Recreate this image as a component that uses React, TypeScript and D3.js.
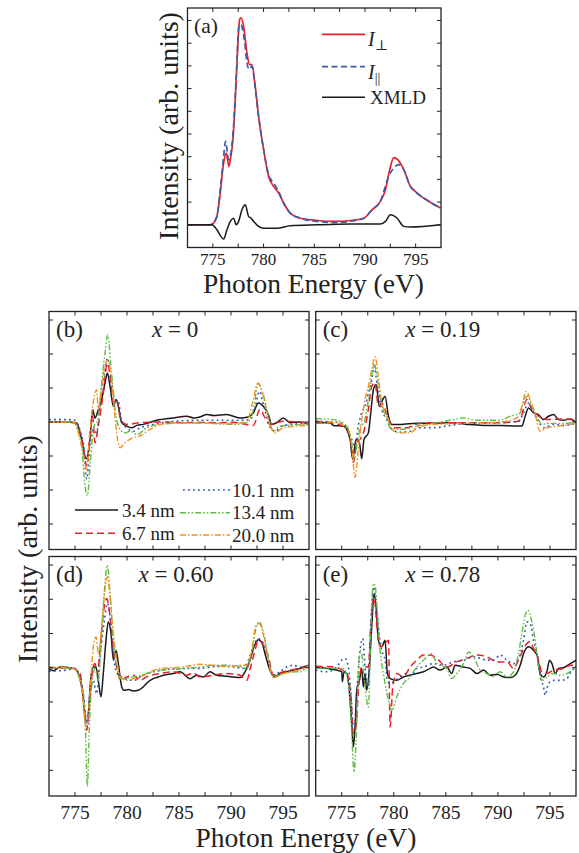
import React from 'react';
import * as d3 from 'd3';

type Pt = [number, number];

// ---------- Panel (a) data: energy (eV), intensity (arb.) ----------
const aPerp: Pt[] = [[772.5,0],[774.74,0],[775.07,0.07],[775.4,0.37],[775.73,1.4],[776.06,2.72],[776.32,3.16],[776.58,2.57],[776.72,2.87],[776.98,3.75],[777.21,5.51],[777.44,7.72],[777.64,9.04],[777.77,9.12],[778.03,8.75],[778.36,7.57],[778.62,7.06],[778.85,7.06],[779.18,6.1],[779.51,4.78],[780.01,3.31],[780.5,2.13],[780.99,1.69],[781.49,1.4],[781.98,0.96],[782.64,0.51],[783.63,0.29],[785.27,0.19],[786.92,0.15],[788.56,0.19],[789.88,0.29],[790.7,0.66],[791.52,1.03],[792.02,1.54],[792.44,2.43],[792.84,2.96],[793.23,2.87],[793.83,2.43],[794.48,1.69],[794.8,1.54],[795.14,1.4],[796.13,1.08],[797.45,0.74]];
const aPar: Pt[] = [[772.5,0],[774.74,0],[775.4,0.37],[775.73,1.54],[776.06,3.0],[776.25,3.68],[776.55,2.87],[776.78,3.16],[777.04,4.34],[777.31,6.54],[777.57,8.75],[777.77,8.82],[778.1,8.16],[778.43,6.99],[778.62,6.84],[778.85,6.99],[779.18,6.03],[779.51,4.78],[780.01,3.31],[780.5,2.2],[780.99,1.84],[781.49,1.47],[781.98,0.96],[782.64,0.51],[783.63,0.29],[785.27,0.15],[786.92,0.1],[788.56,0.15],[789.88,0.29],[790.7,0.66],[791.52,1.03],[791.85,1.47],[792.34,2.13],[792.84,2.5],[793.33,2.65],[793.83,2.43],[794.48,1.69],[795.14,1.4],[796.13,1.08],[797.45,0.74]];
const aXmld: Pt[] = [[772.5,0],[774.9,0],[775.4,-0.22],[775.79,-0.51],[776.06,-0.63],[776.39,-0.22],[776.72,0.15],[777.04,0.29],[777.31,0],[777.54,0.15],[777.87,0.66],[778.2,0.88],[778.52,0.37],[778.75,0.3],[779.02,0.15],[779.51,-0.07],[780.01,-0.15],[781.32,-0.15],[782.64,-0.04],[785.27,0],[788.56,0.03],[791.52,0.03],[792.02,0.15],[792.51,0.44],[793.17,0.29],[793.83,-0.07],[794.48,-0.1],[797.45,0]];

// ---------- Panel (b) x = 0 ----------
const bBlack: Pt[] = [[772.5,0],[774.2,0],[775.16,-0.03],[775.64,-0.51],[776.06,-1.08],[776.44,-0.51],[776.7,0.36],[776.92,0.12],[777.24,0.36],[777.56,0.66],[777.88,1.14],[778.11,1.44],[778.37,1.05],[778.69,0.46],[778.94,0.66],[779.17,0.46],[779.49,-0.02],[779.97,-0.12],[780.45,-0.17],[780.93,-0.1],[781.57,-0.07],[782.85,0.05],[784.46,0.12],[785.74,0.17],[786.4,0.12],[787.02,0.15],[787.7,0.22],[788.3,0.19],[789.58,0.22],[790.87,0.12],[791.67,0.15],[792.15,0.27],[792.63,0.56],[793.11,0.46],[793.59,0.22],[793.91,-0.07],[794.39,-0.02],[795.03,0.12],[795.67,-0.02],[796.63,0],[797.44,-0.07]];
const bRed: Pt[] = [[772.5,0],[775.0,-0.02],[775.8,-0.73],[776.12,-1.29],[776.44,-0.32],[776.7,0.17],[776.92,-0.61],[777.24,-0.12],[777.72,0.85],[778.11,1.73],[778.43,1.24],[778.69,0.56],[779.01,0.66],[779.39,0.07],[779.97,-0.07],[781.25,-0.02],[783.17,0],[785.1,-0.02],[787.02,-0.01],[788.62,-0.02],[790.22,-0.01],[792.15,-0.1],[792.79,0.37],[793.27,0.12],[793.75,-0.07],[795.03,0.02],[797.44,-0.02]];
const bBlue: Pt[] = [[772.5,0.07],[774.84,0.07],[775.8,-0.61],[776.12,-1.68],[776.5,-0.51],[776.83,-0.22],[777.08,-0.32],[777.4,0.56],[777.79,1.34],[778.11,1.88],[778.43,1.34],[778.85,0.66],[779.17,0.61],[779.49,0],[779.97,-0.17],[780.61,-0.27],[781.25,-0.17],[782.53,-0.07],[783.81,0],[787.02,0.05],[790.22,0.05],[791.83,0.07],[792.31,0.41],[792.72,0.9],[793.17,0.46],[793.69,-0.12],[794.23,-0.27],[795.03,-0.1],[797.44,-0.04]];
const bGreen: Pt[] = [[772.5,0],[774.84,0],[775.64,-0.71],[775.96,-1.88],[776.19,-2.17],[776.5,-1.09],[776.83,-0.12],[777.24,0.07],[777.56,1.14],[777.88,2.02],[778.14,2.56],[778.46,1.63],[778.85,0.37],[779.33,-0.22],[779.81,-0.32],[780.29,-0.27],[780.93,-0.37],[781.89,-0.17],[783.17,-0.07],[785.1,-0.03],[787.02,-0.03],[790.22,-0.07],[791.51,-0.03],[792.15,0.37],[792.63,1.14],[793.11,0.8],[793.59,0.17],[794.07,-0.27],[794.71,-0.12],[797.44,-0.07]];
const bOrange: Pt[] = [[772.5,0],[774.84,0],[775.64,-0.71],[776.12,-1.39],[776.38,-0.51],[776.7,0.46],[777.08,0.95],[777.24,0.37],[777.56,1.05],[777.88,1.63],[778.17,1.83],[778.43,1.44],[778.69,0.66],[779.01,-0.32],[779.33,-0.76],[779.81,-0.61],[780.61,-0.46],[781.25,-0.41],[782.21,-0.22],[783.49,-0.05],[785.1,-0.03],[787.02,-0.03],[790.22,-0.05],[791.51,0.02],[792.15,0.66],[792.56,1.14],[793.11,0.76],[793.59,0.07],[794.23,-0.32],[795.03,-0.17],[797.44,-0.1]];

// ---------- Panel (c) x = 0.19 ----------
const cBlack: Pt[] = [[772.5,-0.02],[773.87,-0.02],[774.2,-0.1],[775.16,-0.12],[775.8,-0.51],[776.05,-1.09],[776.38,-0.51],[776.7,-0.61],[776.92,-1.08],[777.14,-0.51],[777.56,-0.32],[777.79,0.27],[778.04,0.95],[778.3,1.1],[778.62,0.46],[778.94,0.66],[779.16,0.76],[779.49,0.17],[779.81,-0.07],[780.61,-0.07],[782.21,-0.04],[783.81,-0.04],[785.41,-0.02],[787.01,-0.07],[788.62,-0.1],[790.22,-0.1],[791.82,-0.12],[792.3,-0.12],[792.62,0.17],[792.94,0.41],[793.42,0.27],[793.9,0.22],[794.38,0.07],[794.86,0.17],[795.35,0.22],[795.83,0.07],[796.31,0.05],[796.95,0.09],[797.53,-0.02]];
const cRed: Pt[] = [[772.5,0.02],[774.2,-0.04],[775.48,-0.17],[775.96,-0.71],[776.12,-1.19],[776.44,-0.61],[776.76,-0.51],[777.08,-0.32],[777.56,0.37],[777.88,1.05],[778.2,1.15],[778.52,0.46],[778.84,0.56],[779.16,0.37],[779.49,0.07],[779.97,-0.17],[781.25,-0.17],[782.05,-0.07],[783.81,-0.02],[787.01,-0.02],[790.22,-0.02],[791.98,0.02],[792.3,0.22],[792.78,0.66],[793.26,0.37],[793.74,0.22],[794.7,0.07],[796.31,0.09],[797.53,0.05]];
const cBlue: Pt[] = [[772.5,0.02],[774.84,-0.02],[775.48,-0.17],[775.96,-0.51],[776.28,-0.71],[776.6,-0.1],[776.92,0.27],[777.24,0.46],[777.56,0.85],[777.88,1.24],[778.11,1.63],[778.43,1.05],[778.84,0.37],[779.33,0.07],[779.81,-0.22],[780.61,-0.3],[781.57,-0.27],[782.53,-0.17],[783.81,-0.17],[785.09,-0.12],[787.01,-0.04],[790.22,-0.02],[791.98,0.02],[792.46,0.27],[792.94,0.56],[793.42,0.27],[793.9,0.02],[794.38,-0.17],[795.35,-0.07],[796.31,-0.1],[797.53,-0.04]];
const cGreen: Pt[] = [[772.5,0.1],[774.2,0.07],[775.48,-0.12],[775.96,-0.61],[776.21,-1.09],[776.5,-0.61],[776.82,-0.12],[777.14,-0.02],[777.46,0.46],[777.79,1.14],[778.11,1.73],[778.43,1.24],[778.84,0.46],[779.26,0.17],[779.65,-0.17],[780.61,-0.22],[782.21,-0.12],[783.81,-0.04],[785.41,0.05],[786.69,0.12],[787.98,0.05],[790.22,0.05],[791.18,0.17],[792.14,0.27],[792.53,0.66],[792.85,0.76],[793.26,0.46],[793.74,0.17],[794.22,-0.07],[794.86,-0.04],[796.31,-0.04],[797.53,0]];
const cOrange: Pt[] = [[772.5,0],[774.2,0],[775.48,-0.17],[775.96,-0.71],[776.28,-1.63],[776.6,-0.8],[776.92,0.07],[777.24,0.66],[777.56,1.05],[777.88,1.53],[778.2,1.92],[778.52,1.34],[778.84,0.56],[779.16,0.32],[779.49,0.07],[779.97,-0.27],[780.61,-0.32],[781.57,-0.32],[782.21,-0.17],[783.81,-0.07],[787.01,-0.04],[790.22,0],[791.82,0.12],[792.3,0.46],[792.72,0.9],[793.1,0.66],[793.58,0.22],[794.06,-0.27],[794.7,-0.17],[796.31,-0.1],[797.53,-0.04]];

// ---------- Panel (d) x = 0.60 ----------
const dBlack: Pt[] = [[772.5,-0.02],[772.92,-0.09],[773.56,0.02],[774.84,-0.02],[775.32,-0.17],[775.74,-0.76],[776.06,-1.58],[776.28,-1.34],[776.5,-0.37],[776.76,0.02],[777.02,0.02],[777.24,-0.37],[777.5,-0.85],[777.72,-0.17],[777.98,0.8],[778.2,1.34],[778.46,1.0],[778.69,0.22],[778.94,0.51],[779.17,0.12],[779.49,-0.56],[779.71,-0.66],[780.13,-0.64],[780.61,-0.68],[781.09,-0.66],[781.57,-0.56],[782.05,-0.41],[782.53,-0.32],[783.01,-0.27],[783.49,-0.22],[784.46,-0.17],[785.1,-0.12],[786.06,-0.32],[786.7,-0.22],[787.34,-0.27],[787.98,-0.12],[788.62,-0.22],[789.58,-0.25],[790.22,-0.27],[790.87,-0.29],[791.35,-0.12],[791.83,0.22],[792.21,0.61],[792.63,0.82],[792.95,0.75],[793.27,0.41],[793.75,-0.07],[794.23,-0.27],[794.71,-0.17],[795.35,-0.12],[795.99,-0.07],[796.63,-0.02],[797.44,0.07]];
const dRed: Pt[] = [[772.5,0],[774.84,-0.02],[775.48,-0.17],[775.8,-0.85],[776.12,-1.83],[776.38,-1.15],[776.7,-0.07],[776.92,0.12],[777.15,-0.17],[777.4,0.51],[777.72,1.58],[778.04,2.02],[778.37,1.49],[778.69,0.51],[779.01,0.02],[779.39,-0.37],[779.97,-0.27],[780.61,-0.22],[781.25,-0.37],[781.89,-0.27],[783.17,-0.17],[784.46,-0.12],[785.74,-0.22],[786.38,-0.15],[787.02,-0.27],[788.3,-0.22],[789.58,-0.17],[790.87,-0.22],[791.51,-0.37],[791.89,0.02],[792.31,0.51],[792.63,0.8],[793.11,0.66],[793.59,0.32],[794.07,-0.22],[795.03,-0.12],[796.63,-0.02],[797.44,0.02]];
const dBlue: Pt[] = [[772.5,-0.1],[774.2,-0.07],[775.0,-0.02],[775.8,-0.76],[776.19,-1.73],[776.44,-0.76],[776.76,-0.37],[777.08,-0.76],[777.4,0.32],[777.79,1.29],[778.11,1.88],[778.43,1.39],[778.75,0.22],[779.07,-0.17],[779.49,-0.27],[780.61,-0.37],[781.57,-0.22],[782.53,-0.12],[783.81,-0.05],[785.42,-0.02],[787.02,-0.02],[788.62,0.04],[790.22,0.02],[791.19,-0.02],[791.67,0.22],[792.15,0.61],[792.63,0.85],[793.11,0.71],[793.59,0.22],[794.07,-0.22],[794.71,-0.12],[795.35,0.02],[795.99,0.07],[796.63,0.02],[797.44,0.02]];
const dGreen: Pt[] = [[772.5,0],[774.84,-0.02],[775.64,-0.56],[775.96,-1.44],[776.19,-3.46],[776.38,-1.74],[776.6,-0.56],[776.92,-0.02],[777.24,-0.37],[777.56,1.0],[777.88,2.46],[778.11,3.0],[778.37,2.17],[778.69,0.8],[779.01,0.02],[779.39,-0.32],[780.61,-0.27],[781.89,-0.17],[783.17,-0.07],[784.46,-0.05],[785.74,-0.02],[787.02,0.02],[788.3,0.07],[789.58,0.07],[790.87,0.04],[791.51,-0.02],[791.99,0.41],[792.47,1.24],[792.72,1.34],[793.11,1.05],[793.59,0.32],[794.07,-0.27],[795.03,-0.17],[795.99,-0.12],[796.63,-0.12],[797.44,0.07]];
const dOrange: Pt[] = [[772.5,0.02],[774.84,-0.02],[775.64,-0.56],[776.06,-1.73],[776.28,-1.34],[776.5,-0.46],[776.76,0.61],[777.02,0.9],[777.24,0.41],[777.56,1.19],[777.88,2.27],[778.11,2.66],[778.37,2.07],[778.69,0.99],[779.01,0.22],[779.39,-0.27],[779.97,-0.37],[780.61,-0.32],[781.25,-0.27],[782.21,-0.12],[783.17,-0.02],[784.46,0],[785.74,0.04],[787.02,0.1],[788.3,0.07],[789.58,0.04],[790.87,0.07],[791.51,0.07],[791.99,0.51],[792.4,1.24],[792.72,1.29],[793.11,0.95],[793.59,0.22],[794.07,-0.29],[795.03,-0.17],[795.99,-0.12],[797.44,0.04]];

// ---------- Panel (e) x = 0.78 (no 20.0 nm curve) ----------
const eBlack: Pt[] = [[772.5,0.02],[773.55,-0.02],[774.52,-0.07],[775.0,-0.12],[775.06,-0.41],[775.22,-0.12],[775.48,-0.17],[775.73,-0.66],[775.96,-1.63],[776.12,-2.31],[776.28,-1.73],[776.44,-0.66],[776.7,-0.37],[776.92,-0.02],[777.08,-0.56],[777.24,-0.17],[777.4,-0.66],[777.66,0.02],[777.88,1.19],[778.11,2.17],[778.3,1.78],[778.52,0.8],[778.84,0.61],[779.16,0.8],[779.39,-0.17],[779.65,-0.32],[780.29,-0.37],[780.93,-0.27],[781.57,-0.22],[782.21,-0.17],[782.85,-0.12],[783.49,-0.02],[783.81,0.02],[784.45,-0.07],[785.09,0.02],[785.57,-0.17],[785.89,0.07],[786.69,0.02],[787.34,-0.02],[787.98,-0.17],[788.62,-0.07],[789.26,-0.22],[789.9,-0.19],[790.54,-0.27],[791.18,-0.29],[791.66,-0.22],[792.14,0.07],[792.46,0.41],[792.94,0.61],[793.42,0.51],[793.81,0.32],[794.06,-0.17],[794.38,-0.27],[794.7,-0.12],[794.96,0.22],[795.19,0.12],[795.51,-0.17],[795.83,-0.02],[796.31,0.0],[796.95,0.12],[797.53,0.22]];
const eRed: Pt[] = [[772.5,0.04],[774.2,0.02],[775.48,-0.17],[775.86,-0.76],[776.12,-1.93],[776.38,-1.73],[776.6,-0.66],[776.92,0.02],[777.24,0.02],[777.56,0.02],[777.79,1.29],[778.11,2.07],[778.36,1.29],[778.68,0.61],[779.16,0.71],[779.49,0.8],[779.65,-1.73],[779.9,-0.56],[780.29,-0.17],[780.93,-0.27],[781.57,0.02],[782.21,0.22],[782.85,0.37],[783.49,0.37],[784.13,0.27],[785.09,0.02],[786.05,0.17],[787.01,0.27],[787.98,0.37],[788.94,0.32],[789.9,0.17],[790.86,0.17],[791.5,-0.02],[791.98,0.22],[792.4,0.51],[792.78,0.71],[793.1,0.76],[793.42,0.56],[793.81,0.32],[794.22,-0.12],[794.7,-0.17],[795.35,-0.07],[796.31,-0.02],[796.95,0.07],[797.53,0.07]];
const eBlue: Pt[] = [[772.5,-0.07],[773.55,-0.12],[774.52,0.02],[775.0,0.22],[775.32,0.27],[775.64,0.02],[775.86,-0.66],[776.12,-1.73],[776.28,-1.73],[776.44,-0.85],[776.76,0.51],[777.02,0.85],[777.24,0.02],[777.56,-0.56],[777.79,1.19],[778.04,2.36],[778.3,1.88],[778.52,1.19],[778.84,0.51],[779.16,0.22],[779.39,-0.37],[779.65,-0.46],[779.97,-0.41],[780.61,-0.27],[781.25,-0.17],[781.73,-0.22],[782.21,-0.02],[782.85,0.02],[783.81,0.12],[784.77,0.07],[785.73,0.17],[786.69,0.22],[787.66,0.32],[788.3,0.27],[788.94,0.22],[789.58,0.22],[790.22,0.37],[790.86,0.22],[791.5,0.12],[791.98,0.27],[792.46,0.8],[792.78,1.34],[793.1,1.29],[793.42,0.8],[793.74,0.41],[794.06,-0.27],[794.38,-0.56],[794.54,-0.8],[794.86,-0.46],[795.35,-0.37],[795.99,-0.37],[796.63,-0.32],[797.11,-0.07],[797.53,-0.02]];
const eGreen: Pt[] = [[772.5,0.0],[774.2,-0.02],[775.16,-0.02],[775.64,-0.46],[775.96,-1.93],[776.18,-3.05],[776.38,-2.12],[776.6,-0.17],[776.76,0.51],[776.92,0.41],[777.24,-0.56],[777.56,-1.15],[777.79,1.0],[778.04,2.46],[778.2,2.41],[778.43,1.58],[778.68,0.51],[779.0,-0.17],[779.49,-0.95],[779.81,-1.24],[780.29,-0.85],[780.93,-0.46],[781.57,-0.27],[782.21,0.02],[782.85,0.22],[783.65,0.41],[784.13,0.12],[785.09,-0.02],[785.57,-0.32],[786.05,-0.17],[786.69,0.12],[787.18,0.46],[787.66,0.32],[788.3,-0.07],[788.94,-0.17],[789.58,-0.27],[790.22,-0.12],[790.86,-0.27],[791.5,-0.12],[791.98,0.41],[792.3,1.0],[792.62,1.53],[792.88,1.68],[793.26,1.34],[793.58,0.8],[793.9,0.02],[794.22,-0.37],[794.7,-0.27],[795.35,-0.17],[795.99,-0.22],[796.63,-0.17],[797.11,-0.07],[797.53,0.07]];

// ---------- Axis / label values ----------
const xDomain: [number, number] = [772.5, 797.5];
const xTickLabels = [775, 780, 785, 790, 795];
const xMinorTicks = [775, 777.5, 780, 782.5, 785, 787.5, 790, 792.5, 795];
const aYTicks = [0, 1, 2, 3, 4, 5, 6, 7, 8, 9];
const lowYTicks = [-3, -2, -1, 0, 1, 2, 3];
const thicknessLabels = ['3.4 nm', '6.7 nm', '10.1 nm', '13.4 nm', '20.0 nm'];
const panelNames = ['(b)', '(c)', '(d)', '(e)'];
const panelX = ['0', '0.19', '0.60', '0.78'];

const FONT = '"Liberation Serif", "DejaVu Serif", serif';

const STYLES = [
  { color: '#1a1a1a', dash: null as string | null, w: 1.5 },
  { color: '#ee1d25', dash: '7,4', w: 1.5 },
  { color: '#3352b0', dash: '1.8,3.2', w: 1.6 },
  { color: '#62bb46', dash: '6,2,1.6,2,1.6,2', w: 1.4 },
  { color: '#f6921e', dash: '6,2,1.6,2', w: 1.4 },
];

type Box = { x0: number; x1: number; y0: number; y1: number };
type Sty = { color: string; dash: string | null; w: number };

function Frame({ box, yTicks, y, x, id }: { box: Box; yTicks: number[]; y: d3.ScaleLinear<number, number>; x: d3.ScaleLinear<number, number>; id: string }) {
  const tl = 4;
  return (
    <g>
      {xMinorTicks.map((t) => (
        <g key={id + 'xt' + t}>
          <line x1={x(t)} x2={x(t)} y1={box.y1} y2={box.y1 - tl} stroke="#222" strokeWidth={1} />
          <line x1={x(t)} x2={x(t)} y1={box.y0} y2={box.y0 + tl} stroke="#222" strokeWidth={1} />
        </g>
      ))}
      {yTicks.map((t) => (
        <g key={id + 'yt' + t}>
          <line x1={box.x0} x2={box.x0 + tl} y1={y(t)} y2={y(t)} stroke="#222" strokeWidth={1} />
          <line x1={box.x1} x2={box.x1 - tl} y1={y(t)} y2={y(t)} stroke="#222" strokeWidth={1} />
        </g>
      ))}
      <rect x={box.x0} y={box.y0} width={box.x1 - box.x0} height={box.y1 - box.y0} fill="none" stroke="#222" strokeWidth={1.3} />
    </g>
  );
}

function Curves({ box, series, id, x, y, styles }: { box: Box; series: Pt[][]; id: string; x: d3.ScaleLinear<number, number>; y: d3.ScaleLinear<number, number>; styles: Sty[] }) {
  const line = d3.line<Pt>().x((d) => x(d[0])).y((d) => y(d[1])).curve(d3.curveMonotoneX);
  return (
    <g>
      <defs>
        <clipPath id={`clip-${id}`}>
          <rect x={box.x0} y={box.y0} width={box.x1 - box.x0} height={box.y1 - box.y0} />
        </clipPath>
      </defs>
      <g clipPath={`url(#clip-${id})`}>
        {series.map((s, i) => (
          <path key={i} d={line(s) || ''} fill="none" stroke={styles[i].color} strokeWidth={styles[i].w}
            strokeDasharray={styles[i].dash || undefined} strokeLinejoin="round" />
        ))}
      </g>
    </g>
  );
}

export default function App() {
  const boxA: Box = { x0: 187.5, x1: 441, y0: 8, y1: 247.5 };
  const xA = d3.scaleLinear().domain(xDomain).range([boxA.x0, boxA.x1]);
  const yA = d3.scaleLinear().domain([-1, 9.55]).range([boxA.y1, boxA.y0]);
  const aStyles: Sty[] = [
    { color: '#e8202a', dash: null, w: 1.7 },
    { color: '#3b5aa8', dash: '6,3.5', w: 1.7 },
    { color: '#1a1a1a', dash: null, w: 1.5 },
  ];

  const cols = [[49, 309], [315.7, 576]];
  const rows = [[311.5, 549.5], [556.5, 796]];
  const lowSeries: Pt[][][] = [
    [bBlack, bRed, bBlue, bGreen, bOrange],
    [cBlack, cRed, cBlue, cGreen, cOrange],
    [dBlack, dRed, dBlue, dGreen, dOrange],
    [eBlack, eRed, eBlue, eGreen],
  ];

  const panels = lowSeries.map((series, i) => {
    const c = cols[i % 2];
    const r = rows[Math.floor(i / 2)];
    const box: Box = { x0: c[0], x1: c[1], y0: r[0], y1: r[1] };
    const x = d3.scaleLinear().domain(xDomain).range([box.x0, box.x1]);
    const y = d3.scaleLinear().domain([-3.75, 3.25]).range([box.y1, box.y0]);
    return { box, x, y, series, i };
  });

  const legendPos = [
    { lx0: 75, lx1: 118, ly: 510, tx: 122, ty: 516.5 },
    { lx0: 75, lx1: 118, ly: 533.3, tx: 122, ty: 540 },
    { lx0: 183, lx1: 230, ly: 490, tx: 232, ty: 496.5 },
    { lx0: 180, lx1: 230, ly: 512.7, tx: 232, ty: 518.5 },
    { lx0: 180, lx1: 230, ly: 535, tx: 232, ty: 541.5 },
  ];

  return (
    <svg width={579} height={853} style={{ position: 'absolute', left: 0, top: 0, background: '#fff' }} fontFamily={FONT}>
      <rect x={0} y={0} width={579} height={853} fill="#fff" />
      <Curves box={boxA} series={[aPerp, aPar, aXmld]} id="a" x={xA} y={yA} styles={aStyles} />
      <Frame box={boxA} yTicks={aYTicks} x={xA} y={yA} id="a" />
      {xTickLabels.map((t) => (
        <text key={'al' + t} x={xA(t)} y={264.5} textAnchor="middle" fontSize={17} fill="#222">{t}</text>
      ))}
      <text x={194} y={33} fontSize={21.5} fill="#222">(a)</text>
      <line x1={322} x2={365} y1={34.3} y2={34.3} stroke={aStyles[0].color} strokeWidth={1.7} />
      <text x={368} y={46} fontSize={20} fill="#222"><tspan fontStyle="italic">I</tspan><tspan fontSize={14} dy={4}>⊥</tspan></text>
      <line x1={322} x2={365} y1={66.7} y2={66.7} stroke={aStyles[1].color} strokeWidth={1.7} strokeDasharray="6,3.5" />
      <text x={368} y={79} fontSize={20} fill="#222"><tspan fontStyle="italic">I</tspan><tspan fontSize={14} dy={4}>||</tspan></text>
      <line x1={322} x2={365} y1={97.3} y2={97.3} stroke={aStyles[2].color} strokeWidth={1.5} />
      <text x={370} y={104} fontSize={19} fill="#222">XMLD</text>
      <text x={313.5} y={293} textAnchor="middle" fontSize={27.5} fill="#222">Photon Energy (eV)</text>
      <text transform="translate(178,126) rotate(-90)" textAnchor="middle" fontSize={28} fill="#222">Intensity (arb. units)</text>

      {panels.map((p) => (
        <g key={'p' + p.i}>
          <Curves box={p.box} series={p.series} id={'p' + p.i} x={p.x} y={p.y} styles={STYLES} />
          <Frame box={p.box} yTicks={lowYTicks} x={p.x} y={p.y} id={'p' + p.i} />
          <text x={p.box.x0 + 7} y={p.box.y0 + 25.5} fontSize={23} fill="#222">{panelNames[p.i]}</text>
          <text x={p.box.x0 + (p.i === 0 ? 103 : 89.5)} y={p.box.y0 + 25.5} fontSize={23} fill="#222">
            <tspan fontStyle="italic">x</tspan> = {panelX[p.i]}
          </text>
          {p.i >= 2 && xTickLabels.map((t) => (
            <text key={'lt' + t} x={p.x(t)} y={819} textAnchor="middle" fontSize={19.5} fill="#222">{t}</text>
          ))}
        </g>
      ))}
      {legendPos.map((l, i) => (
        <g key={'lg' + i}>
          <line x1={l.lx0} x2={l.lx1} y1={l.ly} y2={l.ly} stroke={STYLES[i].color} strokeWidth={STYLES[i].w}
            strokeDasharray={STYLES[i].dash || undefined} />
          <text x={l.tx} y={l.ty} fontSize={19} fill="#222">{thicknessLabels[i]}</text>
        </g>
      ))}
      <text x={306} y={846.5} textAnchor="middle" fontSize={27.5} fill="#222">Photon Energy (eV)</text>
      <text transform="translate(37,549) rotate(-90)" textAnchor="middle" fontSize={28} fill="#222">Intensity (arb. units)</text>
    </svg>
  );
}
